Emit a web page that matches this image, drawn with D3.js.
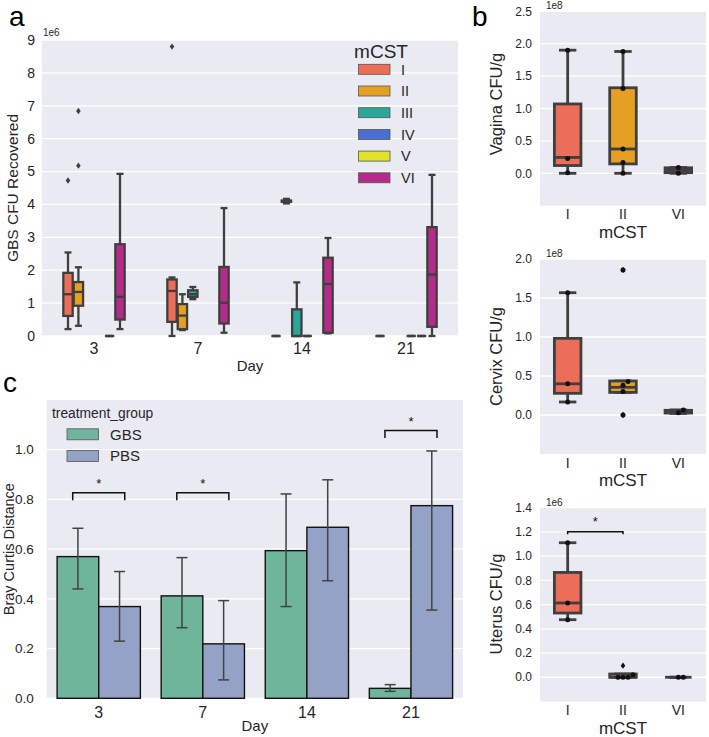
<!DOCTYPE html>
<html><head><meta charset="utf-8">
<script src="https://cdn.jsdelivr.net/npm/d3@7"></script>
<style>
body{margin:0;background:#fff}
svg{display:block}
text{font-family:"Liberation Sans",Arial,sans-serif;fill:#262626}
</style>
</head><body>
<svg id="c" width="709" height="737"></svg>
<script>
// ---------------- DATA ----------------
const days = ["3","7","14","21"];
const mcst = ["I","II","III","IV","V","VI"];
const mcstColors = ["#ec6e58","#e5a023","#2ba797","#4a6fd4","#e2e22c","#b52b8c"];
// panel a: [day, mCST, low, q1, median, q3, high]  (units 1e6)
const cfuBoxes = [
  ["3","I",0.21,0.61,1.27,1.92,2.54],
  ["3","II",0.31,0.92,1.34,1.64,2.09],
  ["3","V",0,0,0,0,0],
  ["3","VI",0.21,0.50,1.19,2.79,4.93],
  ["7","I",0,0.43,1.37,1.72,1.78],
  ["7","II",0.18,0.21,0.62,0.97,1.27],
  ["7","III",1.12,1.19,1.27,1.39,1.49],
  ["7","VI",0.10,0.38,1.01,2.10,3.89],
  ["14","I",0,0,0,0,0],
  ["14","II",4.03,4.08,4.10,4.12,4.17],
  ["14","III",0,0,0,0.81,1.63],
  ["14","IV",0,0,0,0,0],
  ["14","VI",0.08,0.10,1.58,2.38,2.98],
  ["21","I",0,0,0,0,0],
  ["21","IV",0,0,0,0,0],
  ["21","V",0,0,0,0,0],
  ["21","VI",0,0.28,1.87,3.31,4.90]
];
const cfuOutliers = [["3","I",4.73],["3","II",5.18],["3","II",6.84],["7","I",8.80]];
const cfuTicks = [0,1,2,3,4,5,6,7,8,9];

// panel b
const organCats = ["I","II","VI"];
const organColors = ["#ec6e58","#e5a023","#b52b8c"];
// [low, q1, median, q3, high]
const vaginaBoxes = [[0,0.12,0.245,1.07,1.90],[0,0.145,0.375,1.32,1.88],[0,0.01,0.05,0.085,0.09]];
const vaginaDots = [[0.01,0.23,1.90],[0,0.165,0.375,1.31,1.88],[0,0.09]];
const vaginaOutliers = [[],[],[]];
const vaginaTicks = [0,0.5,1.0,1.5,2.0,2.5];
const cervixBoxes = [[0.167,0.278,0.40,0.983,1.568],[0.29,0.29,0.355,0.436,0.436],[0.02,0.025,0.04,0.06,0.065]];
const cervixDots = [[0.167,0.40,1.568],[0,0.30,0.38,0.43,1.86],[0.03,0.064]];
const cervixOutliers = [[],[0,1.86],[]];
const cervixTicks = [0,0.5,1.0,1.5,2.0];
const uterusBoxes = [[0.475,0.53,0.613,0.865,1.11],[0,0,0,0.027,0.027],[0,0,0,0,0]];
const uterusDots = [[0.475,0.613,1.11],[0,0,0,0.02],[0,0]];
const uterusOutliers = [[],[0.096],[]];
const uterusTicks = [0,0.2,0.4,0.6,0.8,1.0,1.2,1.4];

// panel c
const groups = ["GBS","PBS"];
const groupColors = ["#6fb59c","#93a2c6"];
const gbsMean = [0.570,0.412,0.594,0.040];
const gbsLow  = [0.440,0.284,0.369,0.028];
const gbsHigh = [0.684,0.566,0.822,0.055];
const pbsMean = [0.369,0.219,0.688,0.775];
const pbsLow  = [0.230,0.074,0.473,0.355];
const pbsHigh = [0.510,0.393,0.879,0.995];
const brayTicks = [0,0.2,0.4,0.6,0.8,1.0];
const sigDays = ["3","7","21"];
const sigHeights = [0.827,0.827,1.077];

// ---------------- DRAW ----------------
const svg = d3.select("#c");
const BG = "#eaeaf2", LINE = "#3f3f3f";

function boxplot(g, cx, w, s, y, color, sw, capW){
  const [lo,q1,md,q3,hi] = s;
  const ln = (x1,y1,x2,y2,cap) => g.append("line").attr("x1",x1).attr("y1",y1).attr("x2",x2).attr("y2",y2)
      .attr("stroke",LINE).attr("stroke-width",sw).attr("stroke-linecap",cap||"butt");
  ln(cx,y(lo),cx,y(q1)); ln(cx,y(q3),cx,y(hi));
  ln(cx-capW/2,y(lo),cx+capW/2,y(lo),"square");
  ln(cx-capW/2,y(hi),cx+capW/2,y(hi),"square");
  g.append("rect").attr("x",cx-w/2).attr("y",y(q3)).attr("width",w).attr("height",Math.max(0,y(q1)-y(q3)))
    .attr("fill",color).attr("stroke",LINE).attr("stroke-width",sw);
  ln(cx-w/2,y(md),cx+w/2,y(md));
}
function diamond(g,x,y,color){
  g.append("path").attr("d",`M${x},${y-3.2}L${x+2.3},${y}L${x},${y+3.2}L${x-2.3},${y}Z`).attr("fill",color);
}
function panelLabel(t,x,y){
  svg.append("text").attr("x",x).attr("y",y).text(t).style("font-size","28px").style("fill","#000");
}

// ===== Panel a =====
(function(){
  const L=42,R=458,T=40,B=336;
  const x = d3.scaleBand().domain(days).range([L,R]);
  const y = d3.scaleLinear().domain([0,9]).range([B,T]);
  const hue = d3.scaleBand().domain(mcst).range([-0.3*x.bandwidth(),0.3*x.bandwidth()]);
  const g = svg.append("g");
  g.append("rect").attr("x",L).attr("y",T).attr("width",R-L).attr("height",B-T).attr("fill",BG);
  g.selectAll(".gr").data(cfuTicks).join("line").attr("x1",L).attr("x2",R)
    .attr("y1",d=>y(d)).attr("y2",d=>y(d)).attr("stroke","#fff").attr("stroke-width",1.3);
  g.selectAll(".yt").data(cfuTicks).join("text").attr("x",L-7).attr("y",d=>y(d)).attr("dy","0.35em")
    .attr("text-anchor","end").style("font-size","14px").text(d=>d);
  g.selectAll(".xt").data(days).join("text").attr("x",d=>x(d)+x.bandwidth()/2).attr("y",354)
    .attr("text-anchor","middle").style("font-size","16px").text(d=>d);
  g.append("text").attr("x",L+1).attr("y",36).style("font-size","10px").text("1e6");
  g.append("text").attr("x",(L+R)/2).attr("y",371).attr("text-anchor","middle").style("font-size","15px").text("Day");
  g.append("text").attr("transform",`translate(18,${(T+B)/2}) rotate(-90)`).attr("text-anchor","middle")
    .style("font-size","15.5px").text("GBS CFU Recovered");
  const bw = hue.bandwidth()*0.9;
  cfuBoxes.forEach(b=>{
    const cx = x(b[0])+x.bandwidth()/2+hue(b[1])+hue.bandwidth()/2;
    boxplot(g,cx,bw,b.slice(2),y,mcstColors[mcst.indexOf(b[1])],2.3,bw*0.5);
  });
  cfuOutliers.forEach(o=>{
    const cx = x(o[0])+x.bandwidth()/2+hue(o[1])+hue.bandwidth()/2;
    diamond(g,cx,y(o[2]),LINE);
  });
  // legend
  const lg = svg.append("g");
  lg.append("text").attr("x",381).attr("y",58).attr("text-anchor","middle").style("font-size","19px").text("mCST");
  mcst.forEach((m,i)=>{
    const yy = 69.3+i*21.7;
    lg.append("rect").attr("x",358.5).attr("y",yy-5).attr("width",31.5).attr("height",10)
      .attr("fill",mcstColors[i]).attr("stroke","#555").attr("stroke-width",0.8);
    lg.append("text").attr("x",401).attr("y",yy).attr("dy","0.36em").style("font-size","14.5px").text(m);
  });
  panelLabel("a",9,26);
})();

// ===== Panel b =====
function organ(opt){
  const L=540,R=706;
  const x = d3.scaleBand().domain(organCats).range([L,R]);
  const y = d3.scaleLinear().domain(opt.domain).range([opt.B,opt.T]);
  const g = svg.append("g");
  g.append("rect").attr("x",L).attr("y",opt.T).attr("width",R-L).attr("height",opt.B-opt.T).attr("fill",BG);
  g.selectAll(".gr").data(opt.ticks).join("line").attr("x1",L).attr("x2",R)
    .attr("y1",d=>y(d)).attr("y2",d=>y(d)).attr("stroke","#fff").attr("stroke-width",1.3);
  g.selectAll(".yt").data(opt.ticks).join("text").attr("x",L-8).attr("y",d=>y(d)).attr("dy","0.35em")
    .attr("text-anchor","end").style("font-size","12px").text(d=>d.toFixed(1));
  g.selectAll(".xt").data(organCats).join("text").attr("x",d=>x(d)+x.bandwidth()/2).attr("y",opt.B+13.5)
    .attr("text-anchor","middle").style("font-size","14px").text(d=>d);
  g.append("text").attr("x",(L+R)/2).attr("y",opt.B+32).attr("text-anchor","middle").style("font-size","17px").text("mCST");
  g.append("text").attr("x",L+6).attr("y",opt.T-2).style("font-size","10px").text(opt.exp);
  g.append("text").attr("transform",`translate(502,${opt.labelY}) rotate(-90)`).attr("text-anchor","middle")
    .style("font-size","16.5px").text(opt.label);
  const w = x.bandwidth()*0.48;
  organCats.forEach((c,i)=>{
    const cx = x(c)+x.bandwidth()/2;
    boxplot(g,cx,w,opt.boxes[i],y,organColors[i],2.8,w*0.55);
  });
  organCats.forEach((c,i)=>{
    const cx = x(c)+x.bandwidth()/2;
    opt.outliers[i].forEach(v=>diamond(g,cx,y(v),"#111"));
    const placed=[];
    opt.dots[i].slice().sort((a,b)=>a-b).forEach(v=>{
      const py=y(v); let px=cx;
      const offs=[0];
      for(let j=1;j<8;j++){offs.push(j*5,-j*5);}
      for(const o of offs){
        if(placed.every(p=>Math.hypot(p[0]-(cx+o),p[1]-py)>=4.6)){px=cx+o;break;}
      }
      placed.push([px,py]);
      g.append("circle").attr("cx",px).attr("cy",py).attr("r",2.5).attr("fill","#111");
    });
  });
  if(opt.bracket){
    const x1=x(organCats[opt.bracket[0]])+x.bandwidth()/2, x2=x(organCats[opt.bracket[1]])+x.bandwidth()/2;
    const yy=y(opt.bracket[2]);
    g.append("path").attr("d",`M${x1},${yy+2.5}L${x1},${yy}L${x2},${yy}L${x2},${yy+2.5}`)
      .attr("fill","none").attr("stroke","#111").attr("stroke-width",1.5);
    g.append("text").attr("x",(x1+x2)/2).attr("y",yy-6).attr("text-anchor","middle").style("font-size","13px").style("fill","#111").text("*");
  }
}
organ({T:11.3,B:205.7,domain:[-0.5,2.5],ticks:vaginaTicks,boxes:vaginaBoxes,dots:vaginaDots,outliers:vaginaOutliers,
  exp:"1e8",label:"Vagina CFU/g",labelY:104});
organ({T:259,B:454,domain:[-0.5,2.0],ticks:cervixTicks,boxes:cervixBoxes,dots:cervixDots,outliers:cervixOutliers,
  exp:"1e8",label:"Cervix CFU/g",labelY:356.5});
organ({T:507.6,B:701.5,domain:[-0.2,1.4],ticks:uterusTicks,boxes:uterusBoxes,dots:uterusDots,outliers:uterusOutliers,
  exp:"1e6",label:"Uterus CFU/g",labelY:604,bracket:[0,1,1.2]});
panelLabel("b",472,26);

// ===== Panel c =====
(function(){
  const L=46.7,R=463,T=400,B=698.3;
  const x = d3.scaleBand().domain(days).range([L,R]);
  const x2 = d3.scaleBand().domain(groups).range([0,x.bandwidth()]).paddingOuter(0.25).paddingInner(0);
  const y = d3.scaleLinear().domain([0,1.2]).range([B,T]);
  const g = svg.append("g");
  g.append("rect").attr("x",L).attr("y",T).attr("width",R-L).attr("height",B-T).attr("fill",BG);
  g.selectAll(".gr").data(brayTicks).join("line").attr("x1",L).attr("x2",R)
    .attr("y1",d=>y(d)).attr("y2",d=>y(d)).attr("stroke","#fff").attr("stroke-width",1.3);
  g.selectAll(".yt").data(brayTicks).join("text").attr("x",L-13).attr("y",d=>y(d)).attr("dy","0.35em")
    .attr("text-anchor","end").style("font-size","13.5px").text(d=>d.toFixed(1));
  g.selectAll(".xt").data(days).join("text").attr("x",d=>x(d)+x.bandwidth()/2).attr("y",718)
    .attr("text-anchor","middle").style("font-size","16px").text(d=>d);
  g.append("text").attr("x",(L+R)/2).attr("y",731).attr("text-anchor","middle").style("font-size","15px").text("Day");
  g.append("text").attr("transform",`translate(13.5,${(T+B)/2}) rotate(-90)`).attr("text-anchor","middle")
    .style("font-size","14.5px").text("Bray Curtis Distance");
  const series = [[gbsMean,gbsLow,gbsHigh],[pbsMean,pbsLow,pbsHigh]];
  groups.forEach((gr,gi)=>{
    const [m]=series[gi];
    days.forEach((d,di)=>{
      const bx = x(d)+x2(gr);
      g.append("rect").attr("x",bx).attr("y",y(m[di])).attr("width",x2.bandwidth()).attr("height",y(0)-y(m[di]))
        .attr("fill",groupColors[gi]).attr("stroke","#111").attr("stroke-width",1.4);
    });
  });
  groups.forEach((gr,gi)=>{
    const [m,lo,hi]=series[gi];
    days.forEach((d,di)=>{
      const cx = x(d)+x2(gr)+x2.bandwidth()/2;
      const ln=(a,b,c,e)=>g.append("line").attr("x1",a).attr("y1",b).attr("x2",c).attr("y2",e).attr("stroke","#424242").attr("stroke-width",1.5);
      ln(cx,y(lo[di]),cx,y(hi[di]));
      ln(cx-5.5,y(lo[di]),cx+5.5,y(lo[di]));
      ln(cx-5.5,y(hi[di]),cx+5.5,y(hi[di]));
    });
  });
  sigDays.forEach((d,i)=>{
    const c = x(d)+x.bandwidth()/2, hw = x.bandwidth()*0.25;
    const yy = y(sigHeights[i]);
    g.append("path").attr("d",`M${c-hw},${yy+7.5}L${c-hw},${yy}L${c+hw},${yy}L${c+hw},${yy+7.5}`)
      .attr("fill","none").attr("stroke","#111").attr("stroke-width",1.5);
    g.append("text").attr("x",c).attr("y",yy-5).attr("text-anchor","middle").style("font-size","13px").style("fill","#111").text("*");
  });
  // legend
  g.append("text").attr("x",52).attr("y",418).style("font-size","13.8px").text("treatment_group");
  groups.forEach((gr,i)=>{
    const yy = 434.3+i*21.7;
    g.append("rect").attr("x",67).attr("y",yy-5.5).attr("width",31.5).attr("height",11)
      .attr("fill",groupColors[i]).attr("stroke","#555").attr("stroke-width",0.8);
    g.append("text").attr("x",110).attr("y",yy).attr("dy","0.36em").style("font-size","15px").text(gr);
  });
  panelLabel("c",3,392);
})();
</script>
</body></html>
